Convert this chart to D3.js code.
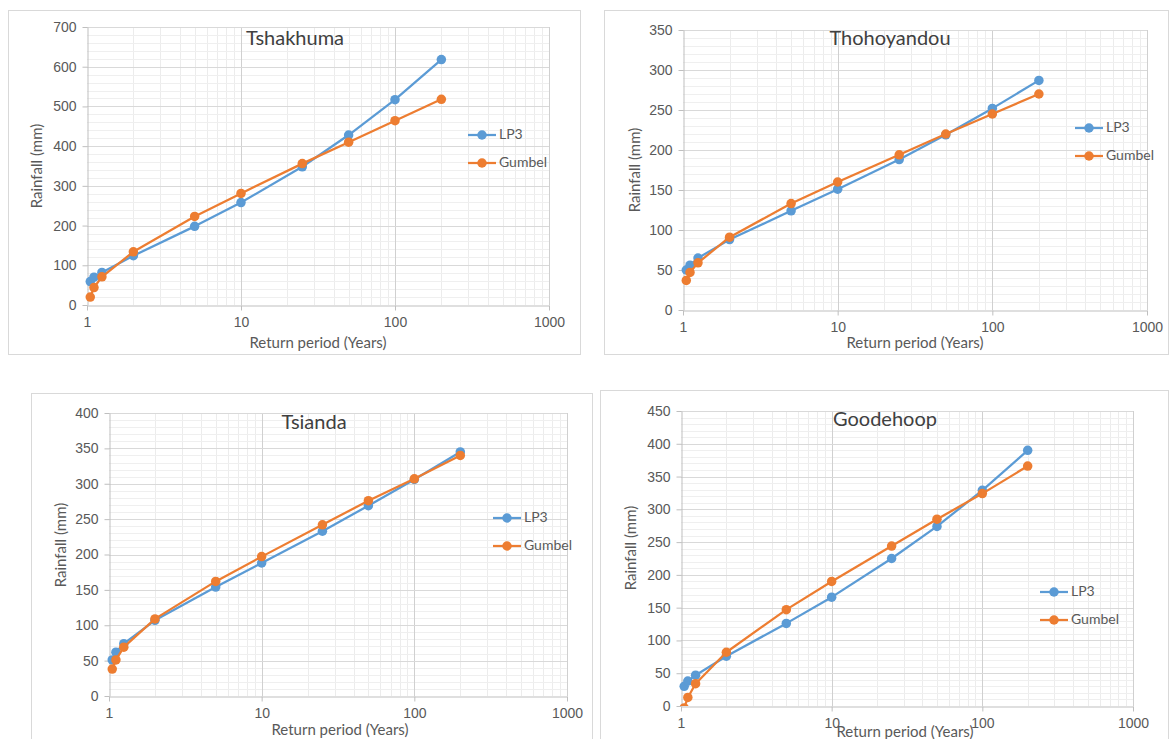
<!DOCTYPE html>
<html>
<head>
<meta charset="utf-8">
<script src="https://cdn.jsdelivr.net/npm/d3@7"></script>
<style>
  html, body { margin: 0; padding: 0; background: #ffffff; }
  svg { display: block; font-family: Lato, "Open Sans", sans-serif; }
</style>
</head>
<body>
<svg id="chart" width="1170" height="739"></svg>
<script>
// Return periods (years) shared by all stations
const returnPeriods = [1.05, 1.11, 1.25, 2, 5, 10, 25, 50, 100, 200];

// Design rainfall (mm) per station, Log-Pearson III and Gumbel estimates
const tshakhumaLP3    = [59, 70, 82, 124, 198, 258, 348, 428, 517, 618];
const tshakhumaGumbel = [20, 44, 71, 134, 223, 281, 356, 410, 464, 518];

const thohoyandouLP3    = [50, 56, 65, 88, 124, 151, 188, 219, 252, 287];
const thohoyandouGumbel = [37, 47, 59, 91, 133, 160, 194, 220, 245, 270];

const tsiandaLP3    = [51, 62, 74, 107, 154, 188, 233, 269, 306, 345];
const tsiandaGumbel = [38, 51, 69, 109, 162, 197, 242, 276, 307, 340];

const goodehoopLP3    = [30, 38, 47, 76, 126, 166, 225, 274, 329, 390];
const goodehoopGumbel = [-3, 13, 34, 82, 147, 190, 244, 285, 324, 366];

const stationNames = ["Tshakhuma", "Thohoyandou", "Tsianda", "Goodehoop"];
const seriesNames = ["LP3", "Gumbel"];
const yMaxima = [700, 350, 400, 450];
const yMajorSteps = [100, 50, 50, 50];
const xTickValues = [1, 10, 100, 1000];

const stationSeries = [
  [tshakhumaLP3, tshakhumaGumbel],
  [thohoyandouLP3, thohoyandouGumbel],
  [tsiandaLP3, tsiandaGumbel],
  [goodehoopLP3, goodehoopGumbel]
];

// Panel geometry (frame, plot area, title, axis titles, legend)
const layout = [
  { frame: [8, 10, 580, 354], plot: [87, 27, 549, 305], title: [295, 45],
    yTitle: [38, 166], xTitle: [318, 348], legend: [468, 135, 28] },
  { frame: [604, 10, 1168, 354], plot: [683, 30, 1147, 310], title: [890, 45],
    yTitle: [636, 170], xTitle: [915, 348], legend: [1075, 128, 28] },
  { frame: [31, 393, 592, 745], plot: [109, 413, 567, 696], title: [314, 429],
    yTitle: [62, 545], xTitle: [340, 735], legend: [493, 518, 28] },
  { frame: [600, 390, 1168, 745], plot: [681, 411, 1133, 706], title: [885, 426],
    yTitle: [632, 548], xTitle: [905, 737], legend: [1040, 592, 28] }
];

const colors = { LP3: "#5b9bd5", Gumbel: "#ed7d31" };
const textColor = "#595959";

const svg = d3.select("#chart");

stationNames.forEach((name, i) => {
  const L = layout[i];
  const [px0, py0, px1, py1] = L.plot;
  const g = svg.append("g");

  // Chart frame
  g.append("rect")
    .attr("x", L.frame[0] + 0.5).attr("y", L.frame[1] + 0.5)
    .attr("width", L.frame[2] - L.frame[0]).attr("height", L.frame[3] - L.frame[1])
    .attr("fill", "#ffffff").attr("stroke", "#d9d9d9").attr("stroke-width", 1);

  const x = d3.scaleLog().domain([1, 1000]).range([px0, px1]);
  const y = d3.scaleLinear().domain([0, yMaxima[i]]).range([py1, py0]);

  // Minor grid lines
  const xMinor = [];
  [1, 10, 100].forEach(d => { for (let k = 2; k <= 9; k++) xMinor.push(d * k); });
  const yMinorStep = yMajorSteps[i] / 5;
  const yMinor = d3.range(0, yMaxima[i] + 0.001, yMinorStep)
    .filter(v => Math.abs(v / yMajorSteps[i] - Math.round(v / yMajorSteps[i])) > 1e-6);

  g.append("g").selectAll("line").data(xMinor).join("line")
    .attr("x1", d => Math.round(x(d)) + 0.5).attr("x2", d => Math.round(x(d)) + 0.5)
    .attr("y1", py0).attr("y2", py1)
    .attr("stroke", "#ececec").attr("stroke-width", 1);
  g.append("g").selectAll("line").data(yMinor).join("line")
    .attr("x1", px0).attr("x2", px1)
    .attr("y1", d => Math.round(y(d)) + 0.5).attr("y2", d => Math.round(y(d)) + 0.5)
    .attr("stroke", "#efefef").attr("stroke-width", 1);

  // Major grid lines
  const yMajor = d3.range(0, yMaxima[i] + 0.001, yMajorSteps[i]);
  g.append("g").selectAll("line").data(xTickValues.slice(1)).join("line")
    .attr("x1", d => Math.round(x(d)) + 0.5).attr("x2", d => Math.round(x(d)) + 0.5)
    .attr("y1", py0).attr("y2", py1)
    .attr("stroke", "#d0d0d0").attr("stroke-width", 1);
  g.append("g").selectAll("line").data(yMajor.slice(1)).join("line")
    .attr("x1", px0).attr("x2", px1)
    .attr("y1", d => Math.round(y(d)) + 0.5).attr("y2", d => Math.round(y(d)) + 0.5)
    .attr("stroke", "#d9d9d9").attr("stroke-width", 1);

  // Axes
  const xAxis = d3.axisBottom(x).tickValues(xTickValues).tickFormat(d3.format("d"))
    .tickSizeInner(5).tickSizeOuter(0).tickPadding(7);
  const yAxis = d3.axisLeft(y).tickValues(yMajor).tickFormat(d3.format("d"))
    .tickSizeInner(5).tickSizeOuter(0).tickPadding(6);

  const gx = g.append("g").attr("transform", `translate(0,${Math.round(py1) + 0.5})`).call(xAxis);
  const gy = g.append("g").attr("transform", `translate(${Math.round(px0) + 0.5},0)`).call(yAxis);
  [gx, gy].forEach(ax => {
    ax.select(".domain").attr("stroke", "#bfbfbf");
    ax.selectAll(".tick line").attr("stroke", "#bfbfbf");
    ax.selectAll("text").attr("fill", textColor).attr("font-size", 14);
  });

  // Clip series to the plot area
  const clipId = `clip-${i}`;
  g.append("clipPath").attr("id", clipId)
    .append("rect").attr("x", px0 - 6).attr("y", py0 - 6)
    .attr("width", px1 - px0 + 12).attr("height", py1 - py0 + 6);

  const plotG = g.append("g").attr("clip-path", `url(#${clipId})`);
  const line = d3.line().x(d => x(d[0])).y(d => y(d[1]));

  seriesNames.forEach((s, j) => {
    const pts = returnPeriods.map((rp, k) => [rp, stationSeries[i][j][k]]);
    plotG.append("path").datum(pts)
      .attr("d", line).attr("fill", "none")
      .attr("stroke", colors[s]).attr("stroke-width", 2.25)
      .attr("stroke-linejoin", "round");
    plotG.append("g").selectAll("circle").data(pts).join("circle")
      .attr("cx", d => x(d[0])).attr("cy", d => y(d[1])).attr("r", 4.75)
      .attr("fill", colors[s]);
  });

  // Title
  g.append("text").attr("x", L.title[0]).attr("y", L.title[1])
    .attr("text-anchor", "middle").attr("font-size", 20).attr("fill", "#404040")
    .text(name);

  // Axis titles
  g.append("text")
    .attr("transform", `translate(${L.yTitle[0]},${L.yTitle[1]}) rotate(-90)`)
    .attr("text-anchor", "middle").attr("dominant-baseline", "middle")
    .attr("font-size", 15).attr("fill", textColor)
    .text("Rainfall (mm)");
  g.append("text").attr("x", L.xTitle[0]).attr("y", L.xTitle[1])
    .attr("text-anchor", "middle").attr("font-size", 15).attr("fill", textColor)
    .text("Return period (Years)");

  // Legend
  const [lx, ly, lw] = L.legend;
  seriesNames.forEach((s, j) => {
    const yy = ly + j * 28;
    g.append("line").attr("x1", lx).attr("x2", lx + lw).attr("y1", yy).attr("y2", yy)
      .attr("stroke", colors[s]).attr("stroke-width", 2.25);
    g.append("circle").attr("cx", lx + lw / 2).attr("cy", yy).attr("r", 4.75).attr("fill", colors[s]);
    g.append("text").attr("x", lx + lw + 3).attr("y", yy)
      .attr("dominant-baseline", "middle").attr("font-size", 14).attr("fill", textColor)
      .text(s);
  });
});
</script>
</body>
</html>
